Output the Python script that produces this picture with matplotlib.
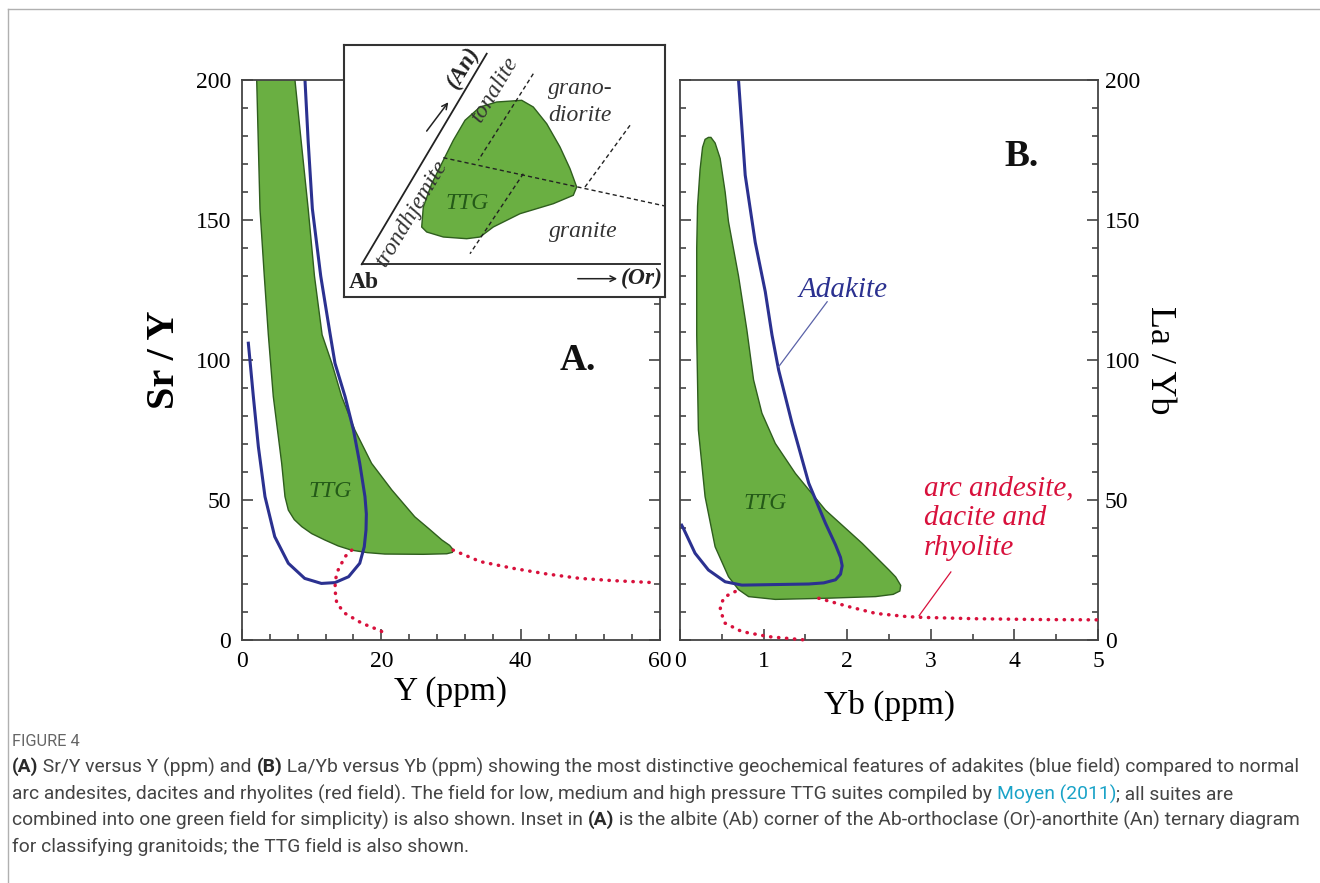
import matplotlib
matplotlib.use("Agg")
import matplotlib.pyplot as plt
from matplotlib.ticker import MultipleLocator

W, H = 1320, 883

# ---- panel A: Sr/Y vs Y (ppm) ----
ttg_a_x = [2.0, 2.11, 2.58, 3.2, 3.78, 4.49, 5.70, 6.17, 6.65, 7.5, 8.57, 10.0, 11.9, 13.8, 15.7,
           18.0, 20.5, 26.0, 29.4, 30.2, 30.3, 29.8, 28.7, 26.8, 24.8, 21.5, 18.6, 16.2, 14.3,
           12.9, 11.5, 10.4, 9.5, 8.5, 7.6, 7.4]
ttg_a_y = [206, 200, 154, 130, 109, 87, 63, 51.2, 46.4, 43.0, 40.5, 38.0, 35.7, 33.6, 32.1,
           31.2, 30.7, 30.6, 30.8, 31.3, 32.3, 33.8, 35.7, 39.8, 44.0, 53.6, 63.1, 75, 87,
           98.8, 109, 130, 154, 178, 200, 206]

adakite_a_x = [8.9, 9.04, 9.5, 10.1, 11.3, 12.6, 13.35, 14.8, 16.0, 16.9, 17.65, 17.85, 17.8,
               17.55, 16.9, 15.3, 13.35, 11.4, 9.0, 6.65, 4.7, 3.3, 2.35, 1.63, 1.25, 0.91]
adakite_a_y = [206, 200, 178, 154, 130, 110, 98.8, 86.9, 75, 63.1, 51.2, 45, 39.3,
               33.3, 27.4, 22.6, 20.5, 20.2, 22.0, 27.4, 36.9, 51.2, 69, 86.9, 97, 106]

arc_a_low_x = [15.75, 14.8, 13.8, 13.4, 13.35, 13.6, 14.8, 17.2, 19.6, 20.8]
arc_a_low_y = [32.1, 29.8, 25.0, 21.5, 17.9, 13.1, 9.5, 6.0, 3.6, 2.1]
arc_a_high_x = [30.3, 34.2, 38.9, 43.7, 48.5, 53.3, 59.0]
arc_a_high_y = [32.1, 28.0, 25.6, 23.6, 22.0, 21.2, 20.5]

# ---- panel B: La/Yb vs Yb (ppm) ----
ttg_b_x = [0.34, 0.30, 0.27, 0.24, 0.21, 0.20, 0.20, 0.22, 0.30, 0.42, 0.58, 0.70, 0.82, 1.14,
           1.74, 2.34, 2.55, 2.63, 2.64, 2.58, 2.5, 2.18, 1.74, 1.38, 1.14, 0.98, 0.88,
           0.80, 0.70, 0.58, 0.54, 0.48, 0.42, 0.37]
ttg_b_y = [179.5, 178.8, 176.0, 168.0, 155.0, 140.0, 109, 75, 51.2, 33.3, 22.6, 18.0, 15.5, 14.5,
           14.9, 15.5, 16.3, 17.5, 19.5, 22.5, 25, 34.5, 46.4, 59.5, 70.2, 81, 92.9,
           110.7, 130, 149.4, 160, 172.0, 177.5, 179.5]

adakite_b_x = [0.69, 0.70, 0.78, 0.90, 1.02, 1.10, 1.18, 1.34, 1.54, 1.74, 1.86, 1.92, 1.94,
               1.92, 1.86, 1.72, 1.54, 0.74, 0.54, 0.34, 0.18, 0.04, 0.02]
adakite_b_y = [206, 200, 166, 142, 124.4, 109, 96.4, 77.4, 56, 41.7, 34.0, 29.5, 26.5,
               23.5, 21.5, 20.4, 20.0, 19.6, 20.8, 25, 31, 39.9, 41]

arc_b_low_x = [0.66, 0.54, 0.49, 0.48, 0.54, 0.74, 1.06, 1.5]
arc_b_low_y = [17.3, 15.5, 13.0, 10.7, 6.0, 3.0, 1.2, 0.0]
arc_b_high_x = [1.66, 2.02, 2.34, 2.7, 2.88, 3.52, 4.32, 5.0]
arc_b_high_y = [14.9, 11.9, 9.5, 8.4, 8.1, 7.6, 7.3, 7.2]

# ---- inset: Ab corner of Ab-Or-An ternary (inset box units) ----
base_x = [17.7, 316]
base_y = [32.7, 32.7]
an_edge_x = [17.7, 142.7]
an_edge_y = [32.7, 243.3]
divides = [([99.3, 321], [139.3, 91]),
           ([189.3, 134.3], [223.3, 136.7]),
           ([179.3, 126], [123.3, 43.3]),
           ([286, 241], [171.7, 110])]
ttg_i_x = [77.7, 79.3, 87.7, 99.3, 109.3, 121, 136, 152.7, 177.7, 189.3, 202.7, 216, 226,
           232.7, 229.3, 209.3, 176, 149.3, 136, 122.7, 99.3, 82.7]
ttg_i_y = [70, 90, 113.3, 136.7, 156.7, 176.7, 190, 195, 196.7, 190, 173.3, 150, 128.3,
           110, 101.7, 93.3, 83.3, 70, 60, 58.3, 60, 65]

GREEN = "#6aaf42"
GREEN_EDGE = "#2f5e1e"
NAVY = "#2b3190"
RED = "#d8113c"
AXC = "#444444"

plt.rcParams["font.family"] = ["Liberation Serif", "DejaVu Serif"]

fig = plt.figure(figsize=(W / 100, H / 100), dpi=100)


def fbox(left, top, right, bottom):
    return [left / W, 1 - bottom / H, (right - left) / W, (bottom - top) / H]


def style_axes(ax):
    for sp in ax.spines.values():
        sp.set_color(AXC)
        sp.set_linewidth(1.3)
    ax.tick_params(which="both", direction="in", color=AXC, width=1.2, labelsize=17)
    ax.tick_params(which="major", length=8, pad=8)
    ax.tick_params(which="minor", length=4.5)


def dotted(ax, x, y):
    ax.plot(x, y, color=RED, lw=2.5, linestyle=(0, (0.1, 2.2)),
            dash_capstyle="round", clip_on=False, zorder=3)


# panel A
axA = fig.add_axes(fbox(242, 80, 660, 640))
style_axes(axA)
axA.set_xlim(0, 60)
axA.set_ylim(0, 200)
axA.xaxis.set_major_locator(MultipleLocator(20))
axA.xaxis.set_minor_locator(MultipleLocator(4))
axA.yaxis.set_major_locator(MultipleLocator(50))
axA.yaxis.set_minor_locator(MultipleLocator(10))
axA.tick_params(which="both", top=False, right=True)
axA.fill(ttg_a_x, ttg_a_y, facecolor=GREEN, edgecolor=GREEN_EDGE, lw=1.0, zorder=1)
axA.plot(adakite_a_x, adakite_a_y, color=NAVY, lw=2.2, zorder=2)
dotted(axA, arc_a_low_x, arc_a_low_y)
dotted(axA, arc_a_high_x, arc_a_high_y)
axA.text(12.6, 53, "TTG", color="#245a18", fontsize=17, style="italic", ha="center", va="center")
axA.text(48.2, 100, "A.", fontsize=27, fontweight="bold", ha="center", va="center", color="#111")
axA.set_xlabel("Y (ppm)", fontsize=24, labelpad=3)
axA.set_ylabel("Sr / Y", fontsize=29, fontweight="bold", labelpad=9)

# panel B
axB = fig.add_axes(fbox(680, 80, 1098, 640))
style_axes(axB)
axB.set_xlim(0, 5)
axB.set_ylim(0, 200)
axB.xaxis.set_major_locator(MultipleLocator(1))
axB.xaxis.set_minor_locator(MultipleLocator(0.5))
axB.yaxis.set_major_locator(MultipleLocator(50))
axB.yaxis.set_minor_locator(MultipleLocator(10))
axB.tick_params(which="both", top=False, left=True, right=True, labelleft=False, labelright=True)
axB.tick_params(axis="y", which="major", pad=5)
axB.fill(ttg_b_x, ttg_b_y, facecolor=GREEN, edgecolor=GREEN_EDGE, lw=1.0, zorder=1)
axB.plot(adakite_b_x, adakite_b_y, color=NAVY, lw=2.2, zorder=2)
dotted(axB, arc_b_low_x, arc_b_low_y)
dotted(axB, arc_b_high_x, arc_b_high_y)
axB.plot([1.76, 1.18], [120.8, 97.6], color="#5a62a8", lw=0.9)
axB.plot([3.24, 2.86], [24.3, 8.7], color=RED, lw=0.9)
axB.text(1.02, 48.8, "TTG", color="#245a18", fontsize=17, style="italic", ha="center", va="center")
axB.text(4.08, 172.6, "B.", fontsize=27, fontweight="bold", ha="center", va="center", color="#111")
axB.text(1.955, 125, "Adakite", color=NAVY, fontsize=21, style="italic", ha="center", va="center")
axB.text(2.92, 43.4, "arc andesite,\ndacite and\nrhyolite", color=RED, fontsize=21,
         style="italic", ha="left", va="center", linespacing=1.2)
axB.set_xlabel("Yb (ppm)", fontsize=24, labelpad=13)
axB.yaxis.set_label_position("right")
axB.set_ylabel("La / Yb", fontsize=26, rotation=270, labelpad=26)

# inset
axI = fig.add_axes(fbox(344, 45, 665, 297), zorder=5)
axI.set_xlim(0, 321)
axI.set_ylim(0, 252)
axI.set_xticks([])
axI.set_yticks([])
for sp in axI.spines.values():
    sp.set_color("#333")
    sp.set_linewidth(1.5)
axI.fill(ttg_i_x, ttg_i_y, facecolor=GREEN, edgecolor=GREEN_EDGE, lw=1.0, zorder=1)
for dx, dy in divides:
    axI.plot(dx, dy, color="#222", lw=1.0, linestyle=(0, (3, 2.2)), zorder=2)
axI.plot(base_x, base_y, color="#222", lw=1.3)
axI.plot(an_edge_x, an_edge_y, color="#222", lw=1.3)
it = dict(style="italic", color="#333", fontsize=17, ha="center", va="center")
axI.text(236, 208.3, "grano-", **it)
axI.text(236, 181.7, "diorite", **it)
axI.text(239.3, 65, "granite", **it)
axI.text(68, 84, "trondhjemite", rotation=59, **it)
axI.text(150.5, 208, "tonalite", rotation=59, **it)
axI.text(122.7, 93.3, "TTG", style="italic", color="#245a18", fontsize=17, ha="center", va="center")
axI.text(119.5, 229.5, "(An)", rotation=59, style="italic", fontweight="bold", fontsize=17,
         ha="center", va="center", color="#222")
axI.annotate("", xy=(106, 197), xytext=(81, 163.7),
             arrowprops=dict(arrowstyle="->", color="#222", lw=1.1))
axI.text(4.3, 15, "Ab", fontweight="bold", fontsize=17, ha="left", va="center", color="#222")
axI.text(297.7, 18.3, "(Or)", style="italic", fontweight="bold", fontsize=17,
         ha="center", va="center", color="#222")
axI.annotate("", xy=(276, 18.3), xytext=(231, 18.3),
             arrowprops=dict(arrowstyle="->", color="#222", lw=1.1))

# page frame lines
fig.add_artist(plt.Line2D([8 / W, 1], [1 - 9 / H, 1 - 9 / H], color="#b0b0b0", lw=1))
fig.add_artist(plt.Line2D([8 / W, 8 / W], [0, 1 - 9 / H], color="#b0b0b0", lw=1))

# caption
renderer = fig.canvas.get_renderer()
CAP_FONT = ["Roboto", "DejaVu Sans"]
probe = fig.text(0, 0, "combined into one green field for simplicity) is also shown. Inset in (A) is the "
                 "albite (Ab) corner of the Ab-orthoclase (Or)-anorthite (An) ternary diagram",
                 fontsize=10, family=CAP_FONT)
cap_size = 10 * 1285 / probe.get_window_extent(renderer).width
probe.remove()

fig.text(12 / W, 1 - 742 / H, "FIGURE 4", fontsize=cap_size * 0.85, family=CAP_FONT,
         color="#666", va="center")

caption_lines = [
    [("(A)", "b"), (" Sr/Y versus Y (ppm) and ", "n"), ("(B)", "b"),
     (" La/Yb versus Yb (ppm) showing the most distinctive geochemical features of adakites "
      "(blue field) compared to normal", "n")],
    [("arc andesites, dacites and rhyolites (red field). The field for low, medium and high "
      "pressure TTG suites compiled by ", "n"), ("Moyen (2011)", "l"), ("; all suites are", "n")],
    [("combined into one green field for simplicity) is also shown. Inset in ", "n"), ("(A)", "b"),
     (" is the albite (Ab) corner of the Ab-orthoclase (Or)-anorthite (An) ternary diagram", "n")],
    [("for classifying granitoids; the TTG field is also shown.", "n")],
]
line_y = [767, 794, 820, 847]
for runs, yy in zip(caption_lines, line_y):
    x = 12
    for s, kind in runs:
        t = fig.text(x / W, 1 - yy / H, s, fontsize=cap_size, family=CAP_FONT, va="center",
                     color={"n": "#444444", "b": "#2a2a2a", "l": "#1aa3c8"}[kind],
                     fontweight="bold" if kind == "b" else "normal")
        x += t.get_window_extent(renderer).width

fig.savefig("out.png", dpi=100)
